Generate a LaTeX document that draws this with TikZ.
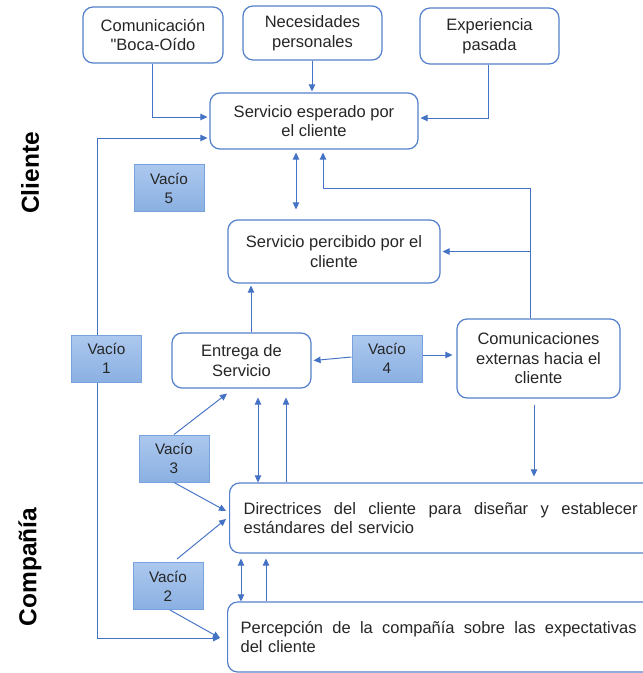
\documentclass[tikz,border=0pt]{standalone}
\usepackage{fontspec}
\setmainfont{Liberation Sans}
% same face without the TeX quote mapping, for a straight double quote
\newfontfamily\plainquote{Liberation Sans}
\usetikzlibrary{arrows.meta}

\definecolor{boxblue}{RGB}{84,128,204}
\definecolor{lineblue}{RGB}{68,114,196}
\definecolor{gapedge}{RGB}{120,162,222}
\definecolor{gaptop}{RGB}{172,200,238}
\definecolor{gapbot}{RGB}{138,176,226}
\definecolor{txt}{RGB}{38,38,38}

\newcommand{\boxfont}{\fontsize{16.5}{19.5}\selectfont}
\newcommand{\gapfont}{\fontsize{15.3}{19}\selectfont}
\newcommand{\sidefont}{\fontsize{24.5}{28}\selectfont\bfseries}

\tikzset{
  box/.style={draw=boxblue, line width=1.2pt, rounded corners=10pt, fill=white,
    align=center, font=\boxfont, text=txt, inner sep=0pt},
  widebox/.style={box, anchor=west, text width=470pt, align=left},
  gapbox/.style={draw=gapedge, line width=1pt, top color=gaptop, bottom color=gapbot,
    align=center, font=\gapfont, text=txt, inner sep=0pt,
    minimum width=70pt, minimum height=47pt},
  arr/.style={draw=lineblue, line width=0.95pt, -{Triangle[length=7pt,width=6.5pt]}},
  darr/.style={draw=lineblue, line width=0.95pt,
    {Triangle[length=7pt,width=6.5pt]}-{Triangle[length=7pt,width=6.5pt]}},
  side/.style={rotate=90, font=\sidefont, text=black, inner sep=0pt}
}

\begin{document}
\begin{tikzpicture}[x=1pt, y=-1pt]
\useasboundingbox (0,0) rectangle (643,673);
\clip (0,0) rectangle (643,673);
\fill[white] (0,0) rectangle (643,673);

% customer side
\node[box, minimum width=140pt, minimum height=56pt] (com) at (153,35)
  {Comunicación\\{\plainquote"}Boca-Oído};
\node[box, minimum width=139pt, minimum height=54pt] (nec) at (312.5,33)
  {Necesidades\\personales};
\node[box, minimum width=139pt, minimum height=56pt] (exp) at (489.5,36)
  {Experiencia\\pasada};
\node[box, minimum width=208pt, minimum height=56pt] (esp) at (314,121)
  {Servicio esperado por\\el cliente};
\node[box, minimum width=212pt, minimum height=63pt] (per) at (334,251.5)
  {Servicio percibido por el\\cliente};

% company side
\node[box, minimum width=139pt, minimum height=55pt] (ent) at (241.5,360.5)
  {Entrega de\\Servicio};
\node[box, minimum width=163pt, minimum height=79pt] (cex) at (538.5,358.5)
  {Comunicaciones\\externas hacia el\\cliente};
\node[widebox, inner xsep=14pt, minimum height=70pt] (dir) at (229,518)
  {\parbox{394pt}{Directrices\hfill del\hfill cliente\hfill para\hfill diseñar\hfill y\hfill establecer\\estándares del servicio}};
\node[widebox, inner xsep=13pt, minimum height=70pt] (pcp) at (227,637)
  {\parbox{396pt}{Percepción\hfill de\hfill la\hfill compañía\hfill sobre\hfill las\hfill expectativas\\del cliente}};

% gaps
\node[gapbox] (v5) at (169,188) {Vacío\\5};
\node[gapbox] (v1) at (106.5,358.5) {Vacío\\1};
\node[gapbox] (v4) at (387,358.5) {Vacío\\4};
\node[gapbox] (v3) at (174,458.5) {Vacío\\3};
\node[gapbox] (v2) at (168,586) {Vacío\\2};

% side labels
\node[side] (cli) at (30,173) {Cliente};
\node[side] (cia) at (30,567) {Compañía};

% inputs to the expected service
\draw[arr] ([xshift=-1pt]com.south) |- ([xshift=-2pt,yshift=4pt]esp.west);
\coordinate (nx) at ([xshift=-0.5pt]nec.south);
\draw[arr] (nx) -- ([yshift=1pt]nx |- esp.north);
\draw[arr] ([xshift=-1.5pt]exp.south) |- ([xshift=2pt,yshift=3pt]esp.east);

% gap 1 loop
\draw[arr] ([xshift=-9.5pt]v1.north) |- ([xshift=-2pt,yshift=-17pt]esp.west);
\draw[arr] ([xshift=-9.5pt]v1.south) |- ([xshift=-7pt,yshift=-1pt]pcp.west);

% expected <-> perceived
\draw[darr] ([xshift=-18pt,yshift=-3pt]esp.south) -- ([xshift=-38pt,yshift=10pt]per.north);

% external communications feedback
\coordinate (cx) at ([xshift=-8.5pt]cex.north);
\draw[arr] (cx) -- ++(0,-130) -| ([xshift=9pt,yshift=-3pt]esp.south);
\draw[arr] (cx |- per.east) -- ([xshift=2pt]per.east);

% delivery to perceived
\coordinate (ex) at ([xshift=9.5pt]ent.north);
\draw[arr] (ex) -- ([yshift=-2pt]ex |- per.south);

% gap 4
\draw[arr] ([yshift=1.5pt]v4.west) -- ([xshift=2pt,yshift=-2pt]v4.west -| ent.east);
\draw[arr] ([yshift=3.5pt]v4.west -| v4.east) -- ([xshift=-4pt,yshift=3.5pt]v4.west -| cex.west);

% gap 3
\draw[arr] (v3.north) -- ([xshift=-14.5pt,yshift=-5pt]ent.south);
\draw[arr] (v3.south) -- ([xshift=-3pt,yshift=7pt]dir.west);

% delivery <-> guidelines
\coordinate (e1) at ([xshift=16.5pt,yshift=-9pt]ent.south);
\coordinate (e2) at ([xshift=44.5pt,yshift=-9pt]ent.south);
\draw[darr] (e1) -- (e1 |- dir.north);
\draw[arr] (e2 |- dir.north) -- (e2);
\coordinate (c2) at ([xshift=-4.5pt,yshift=-6pt]cex.south);
\draw[arr, shorten >=6pt] (c2) -- (c2 |- dir.north);

% gap 2
\draw[arr] ([xshift=9pt,yshift=3pt]v2.north) -- ([xshift=-3pt,yshift=-1pt]dir.west);
\draw[arr] ([xshift=2pt]v2.south) -- ([xshift=-7pt,yshift=-1pt]pcp.west);

% guidelines <-> company perception
\coordinate (d1) at ([xshift=12pt]dir.south west);
\coordinate (d2) at ([xshift=37pt]dir.south west);
\draw[darr] ([yshift=-5pt]d1) -- (d1 |- pcp.north);
\draw[arr] (d2 |- pcp.north) -- ([yshift=-5pt]d2);
\end{tikzpicture}
\end{document}
